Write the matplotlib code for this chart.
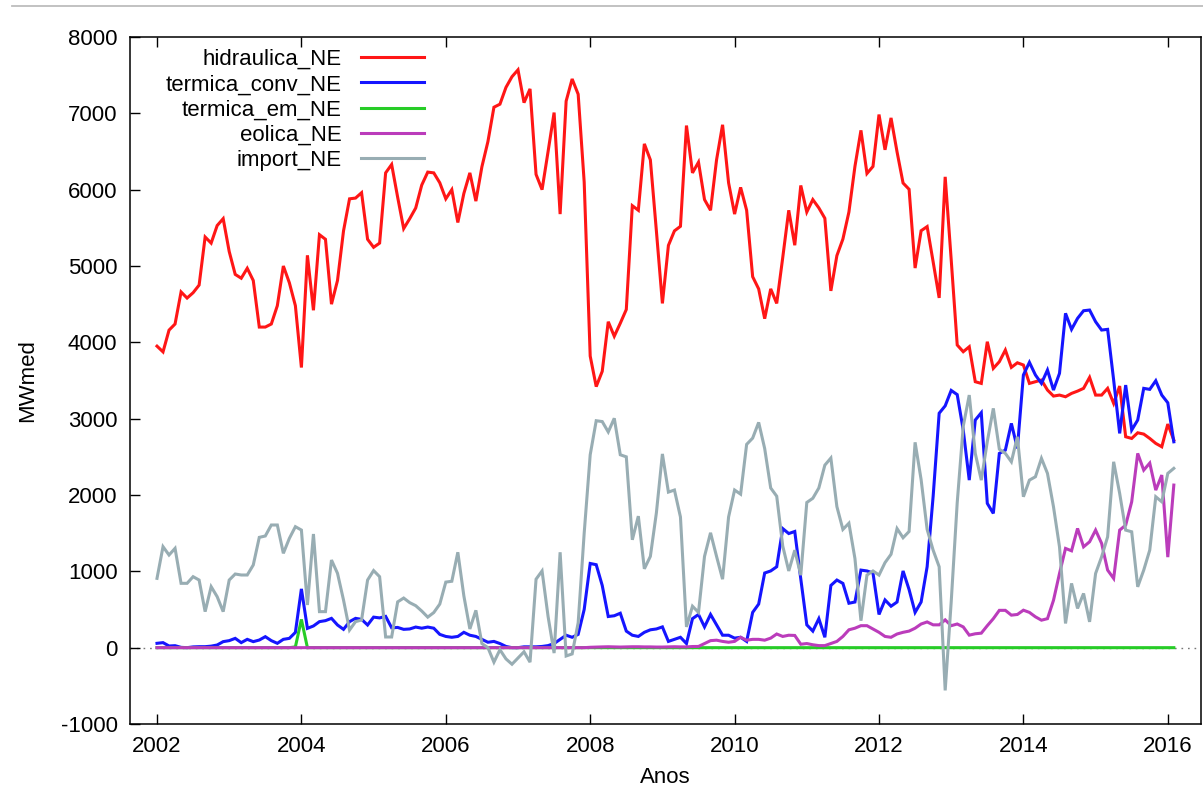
import numpy as np
import matplotlib
matplotlib.use("Agg")
import matplotlib.pyplot as plt
from matplotlib.lines import Line2D

plt.rcParams['font.family'] = ['Liberation Sans', 'DejaVu Sans']

# ---------------- data (monthly, Jan 2002 .. Feb 2016) ----------------
start_year = 2002
series_names = ["hidraulica_NE", "termica_conv_NE", "termica_em_NE", "eolica_NE", "import_NE"]
series_colors = ["#ff1616", "#1515ff", "#27cc27", "#bb3cbb", "#98adb3"]

hidraulica_NE = [
    3950, 3875, 4160, 4240, 4660, 4580, 4650, 4750, 5380, 5300, 5530, 5620,
    5190, 4890, 4840, 4970, 4810, 4200, 4200, 4240, 4480, 5000, 4780, 4480,
    3670, 5140, 4420, 5410, 5350, 4500, 4810, 5460, 5880, 5890, 5960, 5350,
    5245, 5300, 6220, 6330, 5900, 5490, 5620, 5760, 6060, 6230, 6220, 6090,
    5880, 6000, 5570, 5950, 6220, 5850, 6300, 6630, 7080, 7120, 7340, 7480,
    7570, 7140, 7320, 6200, 6000, 6500, 7010, 5680, 7160, 7450, 7250, 6100,
    3820, 3420, 3620, 4270, 4080, 4250, 4430, 5790, 5730, 6600, 6390, 5460,
    4510, 5270, 5460, 5520, 6840, 6220, 6360, 5870, 5730, 6390, 6850, 6090,
    5680, 6030, 5730, 4860, 4700, 4310, 4700, 4510, 5110, 5730, 5272, 6055,
    5707, 5870, 5761, 5625, 4674, 5136, 5353, 5707, 6304, 6777, 6212, 6304,
    6984, 6522, 6940, 6495, 6087, 6005, 4973, 5462, 5516, 5054, 4582, 6168,
    5082, 3965, 3877, 3942, 3484, 3462, 4008, 3659, 3746, 3899, 3672, 3732,
    3703, 3462, 3484, 3506, 3375, 3296, 3309, 3287, 3331, 3361, 3397, 3541,
    3309, 3309, 3397, 3200, 3427, 2763, 2741, 2815, 2798, 2741, 2676, 2632,
    2929, 2720,
]

termica_conv_NE = [
    57, 66, 22, 26, 4, 0, 10, 13, 13, 20, 35, 79,
    92, 122, 66, 109, 79, 100, 144, 92, 57, 109, 122, 200,
    770, 253, 284, 341, 354, 384, 297, 240, 341, 384, 371, 297,
    400, 390, 410, 260, 265, 240, 245, 270, 255, 270, 255, 174,
    147, 136, 147, 201, 163, 147, 109, 71, 82, 54, 16, 0,
    0, 11, 11, 11, 16, 27, 54, 109, 163, 136, 174, 500,
    1103, 1087, 815, 408, 418, 451, 217, 163, 147, 201, 234, 245,
    272, 82, 109, 136, 54, 380, 435, 272, 435, 299, 163, 163,
    125, 136, 82, 462, 571, 978, 1005, 1060, 1560, 1495, 1522, 900,
    299, 217, 380, 136, 815, 886, 842, 582, 598, 1016, 1005, 978,
    435, 625, 543, 598, 1005, 761, 462, 598, 1060, 1984, 3071, 3168,
    3370, 3315, 2851, 2195, 2982, 3078, 1890, 1759, 2545, 2588, 2938, 2611,
    3572, 3738, 3572, 3462, 3637, 3375, 3594, 4380, 4170, 4314, 4414, 4423,
    4270, 4161, 4170, 3506, 2807, 3440, 2851, 2982, 3397, 3384, 3497, 3309,
    3208, 2697,
]

termica_em_NE = [0] * 23 + [10, 370] + [0] * 145

eolica_NE = (
    [0] * 72 +
    [5, 8, 10, 12, 10, 8, 10, 12, 12, 10, 10, 8,
     8, 10, 12, 10,
     10, 15, 16, 54, 92, 98, 82, 71,
     82, 136, 98, 109, 109, 98, 125, 179, 147, 163, 160, 45,
     54, 38, 27, 27, 54, 82, 147, 234, 255, 288, 288, 245,
     201, 147, 136, 179, 201, 217, 255, 310, 337, 299, 299, 364,
     288, 310, 272, 164, 182, 190, 288, 380, 489, 489, 426, 435,
     491, 462, 404, 360, 380, 620, 972, 1300, 1269, 1562, 1321, 1387,
     1540, 1366, 1016, 907, 1540, 1605, 1911, 2545, 2326, 2418, 2064, 2261,
     1186, 2130]
)

import_NE = [
    908, 1323, 1214, 1301, 843, 843, 930, 886, 472, 799, 668, 472,
    886, 965, 952, 952, 1083, 1445, 1463, 1607, 1607, 1236, 1432, 1585,
    1541, 559, 1489, 472, 472, 1148, 974, 624, 231, 341, 362, 886,
    1010, 930, 140, 140, 600, 650, 590, 550, 480, 400, 460, 571,
    859, 870, 1250, 679, 245, 489, 54, 0, -190, -27, -147, -217,
    -136, -54, -190, 897, 1005, 408, -71, 1250, -109, -82, 326, 1500,
    2527, 2973, 2962, 2826, 3005, 2527, 2500, 1413, 1723, 1033, 1196, 1766,
    2538, 2038, 2065, 1712, 272, 543, 462, 1196, 1505, 1196, 897, 1712,
    2065, 2011, 2663, 2745, 2951, 2609, 2092, 1984, 1332, 1005, 1277, 950,
    1902, 1957, 2092, 2391, 2484, 1848, 1549, 1630, 1168, 353, 951, 1005,
    951, 1114, 1223, 1560, 1440, 1522, 2690, 2201, 1549, 1277, 1060, -560,
    600, 1900, 2900, 3309, 2545, 2195, 2700, 3135, 2600, 2545, 2435, 2763,
    1977, 2195, 2239, 2480, 2283, 1846, 1321, 317, 842, 514, 710, 338,
    972, 1190, 1452, 2435, 2021, 1540, 1518, 797, 1016, 1278, 1977, 1911,
    2283, 2349,
]

x_ticks = [2002, 2004, 2006, 2008, 2010, 2012, 2014, 2016]
y_ticks = [-1000, 0, 1000, 2000, 3000, 4000, 5000, 6000, 7000, 8000]

# ---------------- figure ----------------
W, H = 1203, 790
fig = plt.figure(figsize=(W / 100, H / 100), dpi=100)
fig.patch.set_facecolor("white")

left, right, top, bottom = 130, 1201, 37, 724
ax = fig.add_axes([left / W, 1 - bottom / H, (right - left) / W, (bottom - top) / H])

n = len(hidraulica_NE)
t = start_year + np.arange(n) / 12.0

all_series = [hidraulica_NE, termica_conv_NE, termica_em_NE, eolica_NE, import_NE]
handles = []
for k, (name, col, vals) in enumerate(zip(series_names, series_colors, all_series)):
    ln, = ax.plot(t, vals, color=col, lw=2.2, label=name, zorder=3 + k,
                  solid_joinstyle="miter")
    handles.append(ln)

ax.axhline(0, color="#777777", lw=1.0, ls=(0, (1.2, 3.5)), zorder=1)

px_per_year = 72.2
ax.set_xlim(2002 - (157 - left) / px_per_year, 2002 + (right - 157) / px_per_year)
ax.set_ylim(-1000, 8000)
ax.set_xticks(x_ticks)
ax.set_yticks(y_ticks)
ax.set_xticklabels([str(v) for v in x_ticks])
ax.set_yticklabels([str(v) for v in y_ticks])

ax.tick_params(axis="both", direction="in", length=7, width=1.0, labelsize=16,
               top=True, right=False, pad=9)
for s in ax.spines.values():
    s.set_linewidth(1.1)
    s.set_color("black")

ax.set_xlabel("Anos", fontsize=16, labelpad=7)
ax.set_ylabel("MWmed", fontsize=16, labelpad=16)

# markerfirst=False -> entries are right-aligned, handle after the text
leg = ax.legend(handles=handles, loc="upper right",
                bbox_to_anchor=(424 / W, 1 - 49 / H), bbox_transform=fig.transFigure,
                frameon=False, markerfirst=False, fontsize=16,
                handlelength=2.85, handletextpad=0.85, labelspacing=0.19,
                borderpad=0, borderaxespad=0)

# top separator line of the screenshot
fig.add_artist(Line2D([12 / W, 1.0], [1 - 6 / H, 1 - 6 / H], transform=fig.transFigure,
                      color="#bdbdbd", lw=1.3))

fig.savefig("out.png", dpi=100, facecolor="white")
